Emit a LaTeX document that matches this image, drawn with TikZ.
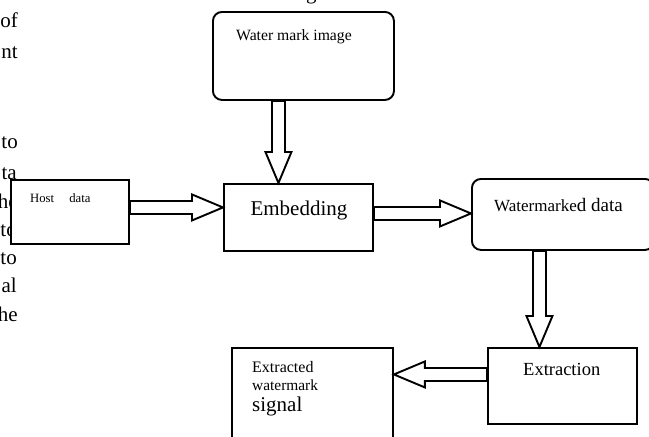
\documentclass[tikz,border=0pt]{standalone}
\usepackage{fontspec}
\setmainfont{Liberation Serif}
\usetikzlibrary{calc}

\begin{document}
\begin{tikzpicture}[x=1pt, y=-1pt]

  % --- Rahmen (Bildgroesse) ---
  \useasboundingbox (0,0) rectangle (649,437);

  % --- Stile ---
  \tikzset{
    box/.style={draw, line width=1.9pt, fill=white, anchor=north west, inner sep=0pt},
    roundbox/.style={box, rounded corners=9pt},
    hollow/.style={draw, line width=1.9pt, fill=white, line join=miter},
    lbl/.style={anchor=base west, inner sep=0pt},
    bodytext/.style={anchor=base east, inner sep=0pt, font=\fontsize{21}{25}\selectfont},
  }

  % --- Hilfsmakro: \hollowarrow{Start}{Spitze} (Blockpfeil) ---
  \newcommand{\hollowarrow}[2]{%
    \draw[hollow] let \p1=(#1), \p2=(#2),
      \n1={atan2(\y2-\y1,\x2-\x1)},
      \n2={veclen(\x2-\x1,\y2-\y1)-31} in
      (\p1) ++(\n1+90:6.5pt) -- ++(\n1:\n2*1pt) -- ++(\n1+90:6.5pt)
      -- (\p2)
      -- ($(\p1)+(\n1:\n2*1pt)+(\n1-90:13pt)$) -- ++(\n1+90:6.5pt)
      -- ($(\p1)+(\n1-90:6.5pt)$) -- cycle;
  }

  % --- Textreste am Rand ---
  \node[lbl, font=\fontsize{21}{25}\selectfont] (capg) at (306,-1) {g};
  \node[bodytext] (t1) at (18,27) {of};
  \node[bodytext] (t2) at (18,58) {nt};
  \node[bodytext] (t3) at (18,148) {to};
  \node[bodytext] (t4) at (17,179) {ta};
  \node[bodytext] (t5) at (18,208) {he};
  \node[bodytext] (t6) at (17,236) {to};
  \node[bodytext] (t7) at (17,264) {to};
  \node[bodytext] (t8) at (17,292) {al};
  \node[bodytext] (t9) at (18,321) {he};

  % --- Kaesten ---
  \node[roundbox, minimum width=181pt, minimum height=88pt] (wmi) at (212,11) {};
  \node[box, minimum width=149pt, minimum height=67pt] (emb) at (223,183) {};
  \node[box, minimum width=118pt, minimum height=64pt] (host) at (10,179) {};
  \node[roundbox, minimum width=182pt, minimum height=71pt] (wmd) at (471,178) {};
  \node[box, minimum width=149pt, minimum height=76pt] (ext) at (487,347) {};
  \node[box, minimum width=161pt, minimum height=100pt] (ews) at (231,347) {};

  % --- Beschriftungen ---
  \node[lbl, font=\fontsize{15.7}{19}\selectfont] (wmilbl)
    at ($(wmi.north west)+(24,29)$) {Water mark image};
  \node[anchor=base, inner sep=0pt, font=\fontsize{21}{25}\selectfont] (emblbl)
    at ($(emb.north)+(0.5,32)$) {Embedding};
  \node[lbl, font=\fontsize{12.7}{15}\selectfont] (hostlbl)
    at ($(host.north west)+(20,23)$) {Host\hspace{12pt} data};
  \node[lbl] (wmdlbl) at ($(wmd.north west)+(23,33)$)
    {\fontsize{17}{20}\selectfont Watermarke\fontsize{19}{23}\selectfont d data};
  \node[lbl, font=\fontsize{18.5}{22}\selectfont] (extlbl)
    at ($(ext.north west)+(36,28)$) {Extraction};
  \node[lbl, font=\fontsize{16}{19}\selectfont] (ewslbla)
    at ($(ews.north west)+(21,25)$) {Extracted};
  \node[lbl, font=\fontsize{15.4}{18}\selectfont] (ewslblb)
    at ($(ews.north west)+(21,43)$) {watermark};
  \node[lbl, font=\fontsize{21}{25}\selectfont] (ewslblc)
    at ($(ews.north west)+(21,64)$) {signal};

  % --- Blockpfeile ---
  \coordinate (wmiout) at ($(wmi.south)+(-25,0)$);
  \hollowarrow{wmiout}{wmiout |- emb.north}
  \coordinate (hostout) at ($(host.east)+(0,-4.5)$);
  \hollowarrow{hostout}{hostout -| emb.west}
  \coordinate (embout) at ($(emb.east)+(0,-4)$);
  \hollowarrow{embout}{embout -| wmd.west}
  \coordinate (wmdout) at ($(wmd.south)+(-23.5,0)$);
  \hollowarrow{wmdout}{wmdout |- ext.north}
  \coordinate (extout) at ($(ext.west)+(0,-11.5)$);
  \hollowarrow{extout}{extout -| ews.east}

\end{tikzpicture}
\end{document}
